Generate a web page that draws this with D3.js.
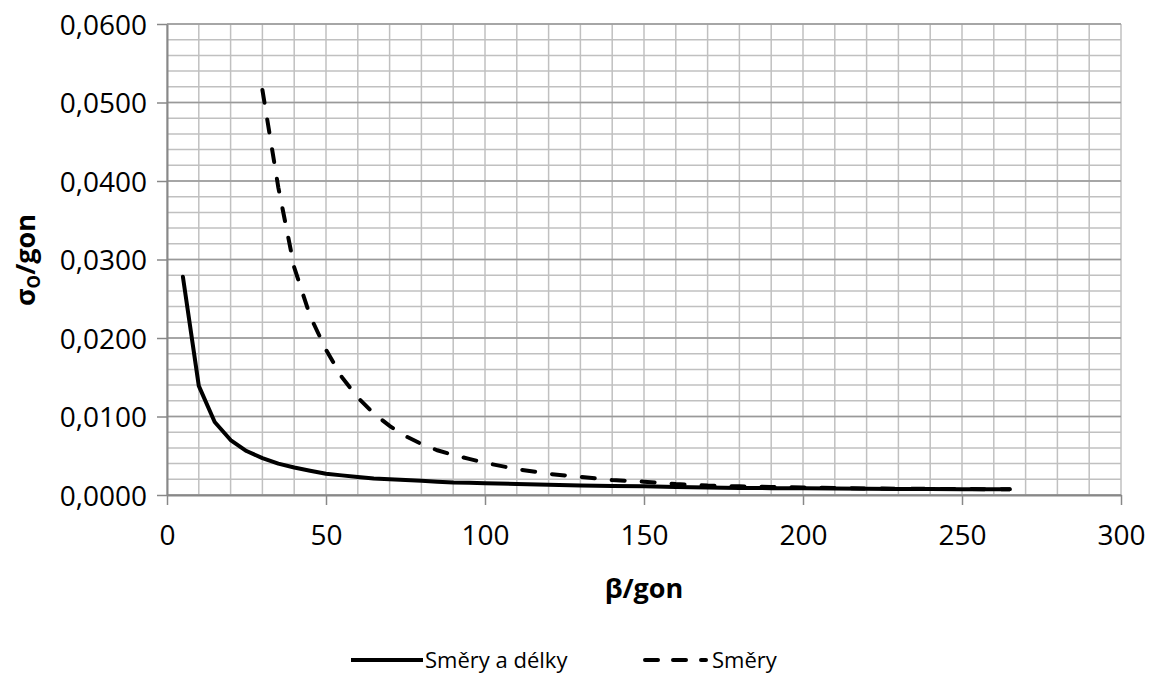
<!DOCTYPE html>
<html>
<head>
<meta charset="utf-8">
<script src="https://cdn.jsdelivr.net/npm/d3@7"></script>
<style>
  body { margin: 0; background: #fff; }
  svg { display: block; }
  .tick text { font-family: "Open Sans", sans-serif; font-size: 28px; fill: #000; }
</style>
</head>
<body>
<svg id="chart" width="1153" height="680"></svg>
<script>
// data
const xSolid = [5, 10, 15, 20, 25, 30, 35, 40, 45, 50, 55, 60, 65, 70, 75, 80, 85, 90, 95, 100,
  110, 120, 130, 140, 150, 160, 170, 180, 190, 200, 210, 220, 230, 240, 250, 260, 265];
const smeryADelky = [0.0278, 0.0139, 0.0093, 0.0070, 0.0056, 0.0047, 0.0040, 0.0035, 0.0031, 0.0027,
  0.0025, 0.0023, 0.0021, 0.0020, 0.0019, 0.0018, 0.0017, 0.0016, 0.00155, 0.0015,
  0.0014, 0.0013, 0.0012, 0.00115, 0.0011, 0.00102, 0.00095, 0.0009, 0.00087, 0.00085,
  0.00082, 0.0008, 0.00078, 0.00076, 0.00074, 0.00073, 0.00072];

const xDashed = [30, 35, 40, 45, 50, 55, 60, 65, 70, 75, 80, 85, 90, 95, 100,
  110, 120, 130, 140, 150, 160, 170, 180, 190, 200, 210, 220, 230, 240, 250, 260, 265];
const smery = [0.0516, 0.0392, 0.0290, 0.0228, 0.0185, 0.0150, 0.0124, 0.0104, 0.0088, 0.0075,
  0.0065, 0.0057, 0.0051, 0.0046, 0.0041,
  0.0033, 0.0027, 0.0023, 0.0019, 0.0017, 0.0014, 0.0012, 0.0011, 0.00102, 0.00095,
  0.00088, 0.00084, 0.0008, 0.00078, 0.00076, 0.00074, 0.00073];

const xTicks = [0, 50, 100, 150, 200, 250, 300];
const yTicks = [0, 0.01, 0.02, 0.03, 0.04, 0.05, 0.06];
const seriesNames = ['Směry a délky', 'Směry'];

const svg = d3.select('#chart');
const x = d3.scaleLinear().domain([0, 300]).range([167, 1121]);
const y = d3.scaleLinear().domain([0, 0.06]).range([495, 24]);
const dashes = '13,17';

// minor grid
const xMinor = d3.range(0, 31).map(i => i * 10);
const yMinor = d3.range(0, 31).map(i => i * 0.002);

const grid = svg.append('g');
grid.selectAll('.vx').data(xMinor).enter().append('line')
  .attr('x1', d => x(d)).attr('x2', d => x(d))
  .attr('y1', y(0.06)).attr('y2', y(0))
  .attr('stroke', '#c0c0c0').attr('stroke-width', 1.5);
grid.selectAll('.hy').data(yMinor).enter().append('line')
  .attr('x1', x(0)).attr('x2', x(300))
  .attr('y1', d => y(d)).attr('y2', d => y(d))
  .attr('stroke', '#c0c0c0').attr('stroke-width', 1.5);
// major horizontal
grid.selectAll('.hm').data(yTicks).enter().append('line')
  .attr('x1', x(0)).attr('x2', x(300))
  .attr('y1', d => y(d)).attr('y2', d => y(d))
  .attr('stroke', '#999').attr('stroke-width', 1.5);

// axes
const fmt = d => d3.format('.4f')(d).replace('.', ',');
const yAxis = svg.append('g')
  .attr('transform', `translate(${x(0)},0)`)
  .call(d3.axisLeft(y).tickValues(yTicks).tickSize(10).tickSizeOuter(0).tickPadding(10).tickFormat(fmt));
const xAxis = svg.append('g')
  .attr('transform', `translate(0,${y(0)})`)
  .call(d3.axisBottom(x).tickValues(xTicks).tickSize(10).tickSizeOuter(0).tickPadding(20));
[yAxis, xAxis].forEach(a => {
  a.select('.domain').attr('stroke', '#888').attr('stroke-width', 2);
  a.selectAll('.tick line').attr('stroke', '#888').attr('stroke-width', 1.5);
});
yAxis.selectAll('.tick text').attr('dy', '0.36em');

// lines
const line = d3.line().x(d => x(d[0])).y(d => y(d[1]));
svg.append('path')
  .datum(xSolid.map((v, i) => [v, smeryADelky[i]]))
  .attr('d', line).attr('fill', 'none').attr('stroke', '#000')
  .attr('stroke-width', 4).attr('stroke-linejoin', 'round').attr('stroke-linecap', 'round');
svg.append('path')
  .datum(xDashed.map((v, i) => [v, smery[i]]))
  .attr('d', line).attr('fill', 'none').attr('stroke', '#000')
  .attr('stroke-width', 4).attr('stroke-dasharray', dashes).attr('stroke-linecap', 'round');

// axis titles
svg.append('text')
  .attr('x', (x(0) + x(300)) / 2).attr('y', 598)
  .attr('text-anchor', 'middle')
  .style('font-family', '"Open Sans", sans-serif').style('font-size', '27px').style('font-weight', 'bold')
  .text('β/gon');

const yt = svg.append('text')
  .attr('transform', 'translate(35,260) rotate(-90)')
  .attr('text-anchor', 'middle')
  .style('font-family', '"Open Sans", sans-serif').style('font-size', '27px').style('font-weight', 'bold');
yt.append('tspan').text('σ');
yt.append('tspan').attr('dy', 5).style('font-size', '17px').text('O');
yt.append('tspan').attr('dy', -5).text('/gon');

// legend
const leg = svg.append('g').style('font-family', '"Open Sans", sans-serif').style('font-size', '22px');
leg.append('line').attr('x1', 351).attr('x2', 423).attr('y1', 660).attr('y2', 660)
  .attr('stroke', '#000').attr('stroke-width', 4);
leg.append('text').attr('x', 425).attr('y', 668).text(seriesNames[0]);
leg.append('line').attr('x1', 645).attr('x2', 706).attr('y1', 660).attr('y2', 660)
  .attr('stroke', '#000').attr('stroke-width', 4).attr('stroke-dasharray', '13,15').attr('stroke-linecap', 'round');
leg.append('text').attr('x', 712).attr('y', 668).text(seriesNames[1]);
</script>
</body>
</html>
